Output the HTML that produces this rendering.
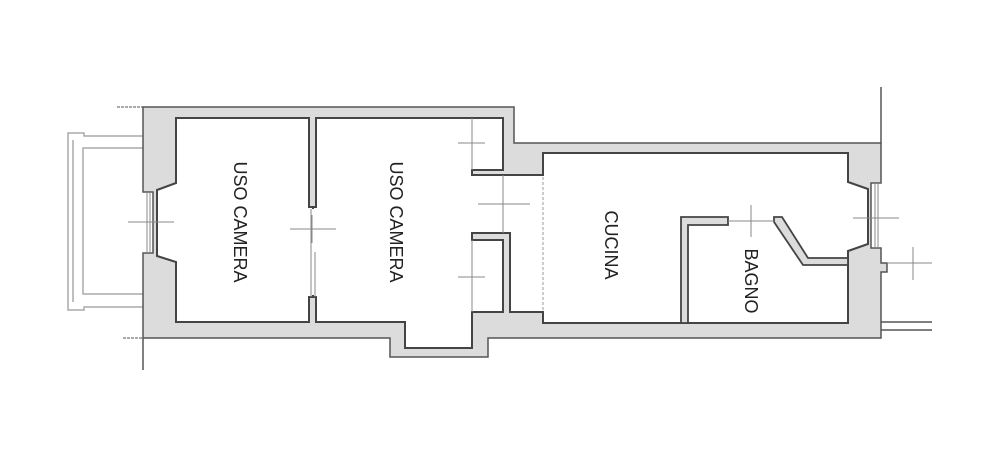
<!DOCTYPE html>
<html><head><meta charset="utf-8"><style>
html,body{margin:0;padding:0;background:#fff;}
svg{display:block;}
text{font-family:"Liberation Sans",sans-serif;font-size:18px;fill:#222;}
</style></head><body>
<svg width="1000" height="449" viewBox="0 0 1000 449" xmlns="http://www.w3.org/2000/svg">
<line x1="117" y1="107" x2="143" y2="107" stroke="#777" stroke-width="1.2" stroke-dasharray="3,1"/>
<line x1="123" y1="338" x2="143" y2="338" stroke="#777" stroke-width="1.2" stroke-dasharray="3,1"/>
<line x1="143" y1="338" x2="143" y2="370" stroke="#555" stroke-width="1.5"/>
<line x1="881" y1="87" x2="881" y2="143" stroke="#555" stroke-width="1.5"/>
<g fill="none" stroke="#aaa" stroke-width="1.5">
<path d="M143,136 L84,136 L84,133 L68,133 L68,310 L84,310 L84,307 L143,307"/>
<path d="M143,148 L83,148 L83,294 L143,294"/>
<line x1="73" y1="140" x2="73" y2="302"/>
</g>
<line x1="881" y1="322" x2="932" y2="322" stroke="#555" stroke-width="1.5"/>
<line x1="881" y1="330" x2="932" y2="330" stroke="#555" stroke-width="1.5"/>
<path d="M143,107 L514,107 L514,143 L881,143 L881,183 L871,183 L871,248 L881,248 L881,263 L887,263 L887,272 L881,272 L881,338 L488,338 L488,357 L390,357 L390,338 L143,338 L143,253 L153,253 L153,192 L143,192 Z" fill="#dcdcdc" stroke="#555" stroke-width="1.5"/>
<path d="M176,118 L309,118 L309,207 L313,207 L313,297 L309,297 L309,322 L176,322 L176,262 L157,256 L157,190 L176,183 Z" fill="#fff" stroke="#444" stroke-width="2"/>
<path d="M316,118 L503,118 L503,170 L472,170 L472,175 L543,175 L543,153 L848,153 L848,182 L868,189 L868,244 L848,251 L848,323 L543,323 L543,312 L510,312 L510,233 L472,233 L472,240 L503,240 L503,312 L472,312 L472,348 L405,348 L405,322 L316,322 L316,297 L313,297 L313,207 L316,207 Z" fill="#fff" stroke="#444" stroke-width="2"/>
<rect x="310" y="209" width="5" height="86" fill="#fff"/>
<line x1="311" y1="209" x2="311" y2="297" stroke="#888" stroke-width="1"/>
<line x1="315" y1="252" x2="315" y2="297" stroke="#888" stroke-width="1"/>
<line x1="543" y1="177" x2="543" y2="311" stroke="#999" stroke-width="1" stroke-dasharray="3,2"/>
<line x1="472" y1="118" x2="472" y2="170" stroke="#888" stroke-width="1"/>
<line x1="472" y1="240" x2="472" y2="312" stroke="#888" stroke-width="1"/>
<line x1="503" y1="175" x2="503" y2="233" stroke="#888" stroke-width="1"/>
<path d="M681,323 L681,217 L728,217 L728,225 L688,225 L688,323 Z" fill="#dcdcdc" stroke="#444" stroke-width="1.8"/>
<path d="M774,217 L782,217 L808,258 L848,258 L848,265 L803,265 L774,222 Z" fill="#dcdcdc" stroke="#444" stroke-width="1.8"/>
<line x1="728" y1="221" x2="774" y2="221" stroke="#888" stroke-width="1"/>
<g stroke="#888" stroke-width="1" fill="none">
<line x1="147" y1="192" x2="147" y2="253"/><line x1="150" y1="192" x2="150" y2="253"/>
<line x1="875" y1="183" x2="875" y2="248"/><line x1="878" y1="183" x2="878" y2="248"/>
</g>
<g stroke="#888" stroke-width="1">
<line x1="128" y1="222" x2="174" y2="222"/>
<line x1="290" y1="229" x2="336" y2="229"/><line x1="312" y1="215" x2="312" y2="243"/>
<line x1="458" y1="143" x2="485" y2="143"/>
<line x1="478" y1="204" x2="530" y2="204"/>
<line x1="458" y1="277" x2="485" y2="277"/>
<line x1="751" y1="205" x2="751" y2="237"/>
<line x1="853" y1="218" x2="899" y2="218"/>
<line x1="888" y1="263" x2="932" y2="263"/><line x1="913" y1="247" x2="913" y2="280"/>
</g>
<text transform="translate(234,222) rotate(90)" text-anchor="middle">USO CAMERA</text>
<text transform="translate(390,222) rotate(90)" text-anchor="middle">USO CAMERA</text>
<text transform="translate(605,245) rotate(90)" text-anchor="middle">CUCINA</text>
<text transform="translate(745,281) rotate(90)" text-anchor="middle">BAGNO</text>
</svg>
</body></html>
